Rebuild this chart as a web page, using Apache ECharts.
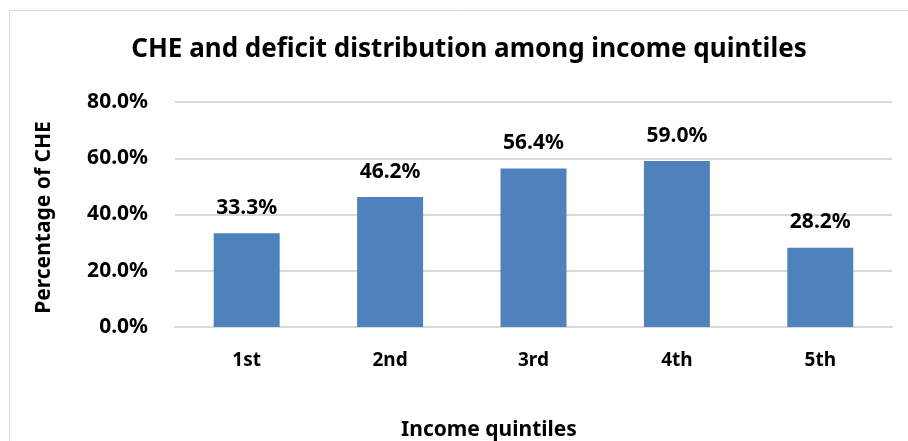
<!DOCTYPE html>
<html>
<head>
<meta charset="utf-8">
<script src="https://cdn.jsdelivr.net/npm/echarts@6/dist/echarts.min.js"></script>
<style>
    html, body { margin: 0; padding: 0; background: #fff; }
    #chart { width: 908px; height: 441px; }
</style>
</head>
<body>
<div id="chart"></div>
<script>
// income quintile categories and % of CHE
const quintiles = ["1st", "2nd", "3rd", "4th", "5th"];
const cheShare = [33.3, 46.2, 56.4, 59.0, 28.2];
const yTicks = [0, 20, 40, 60, 80];

const font = "Noto Sans";
const chart = echarts.init(document.getElementById("chart"));

chart.setOption({
    animation: false,
    textStyle: { fontFamily: font },
    title: {
        text: "CHE and deficit distribution among income quintiles",
        left: 464,
        top: 32,
        textAlign: "center",
        textStyle: { fontSize: 26, fontWeight: "bold", color: "#000", fontFamily: font },
    },
    graphic: [
        {
            // chart frame (only top / left edges visible)
            type: "rect",
            shape: { x: 9.5, y: 10.5, width: 1000, height: 1000 },
            style: { fill: null, stroke: "#d9d9d9", lineWidth: 1 },
            silent: true,
        },
        {
            type: "text",
            x: 489,
            y: 430,
            style: {
                text: "Income quintiles",
                fontSize: 21,
                fontWeight: "bold",
                fill: "#000",
                fontFamily: font,
                align: "center",
                verticalAlign: "middle",
            },
        },
    ],
    grid: {
        left: 175,
        right: 16,
        top: 102,
        bottom: 114,
        containLabel: false,
    },
    xAxis: {
        type: "category",
        data: quintiles,
        axisLine: { show: true, lineStyle: { color: "#d9d9d9", width: 2 } },
        axisTick: { show: false },
        axisLabel: { color: "#000", fontSize: 19, fontWeight: "bold", margin: 24 },
    },
    yAxis: {
        type: "value",
        min: yTicks[0],
        max: yTicks[yTicks.length - 1],
        interval: 20,
        name: "Percentage of CHE",
        nameLocation: "middle",
        nameGap: 120,
        nameRotate: 90,
        nameTextStyle: { color: "#000", fontSize: 21, fontWeight: "bold", padding: [0, 6, 0, 0] },
        axisLine: { show: false },
        axisTick: { show: false },
        axisLabel: {
            color: "#000",
            fontSize: 21,
            fontWeight: "bold",
            margin: 27,
            formatter: (v) => v.toFixed(1) + "%",
        },
        splitLine: { lineStyle: { color: "#d9d9d9", width: 2 } },
    },
    series: [
        {
            type: "bar",
            data: cheShare,
            barWidth: "46%",
            itemStyle: { color: "#4f81bd" },
            label: {
                show: true,
                position: "top",
                distance: 15,
                color: "#000",
                fontSize: 21,
                fontWeight: "bold",
                formatter: (p) => p.value.toFixed(1) + "%",
            },
        },
    ],
});
</script>
</body>
</html>
